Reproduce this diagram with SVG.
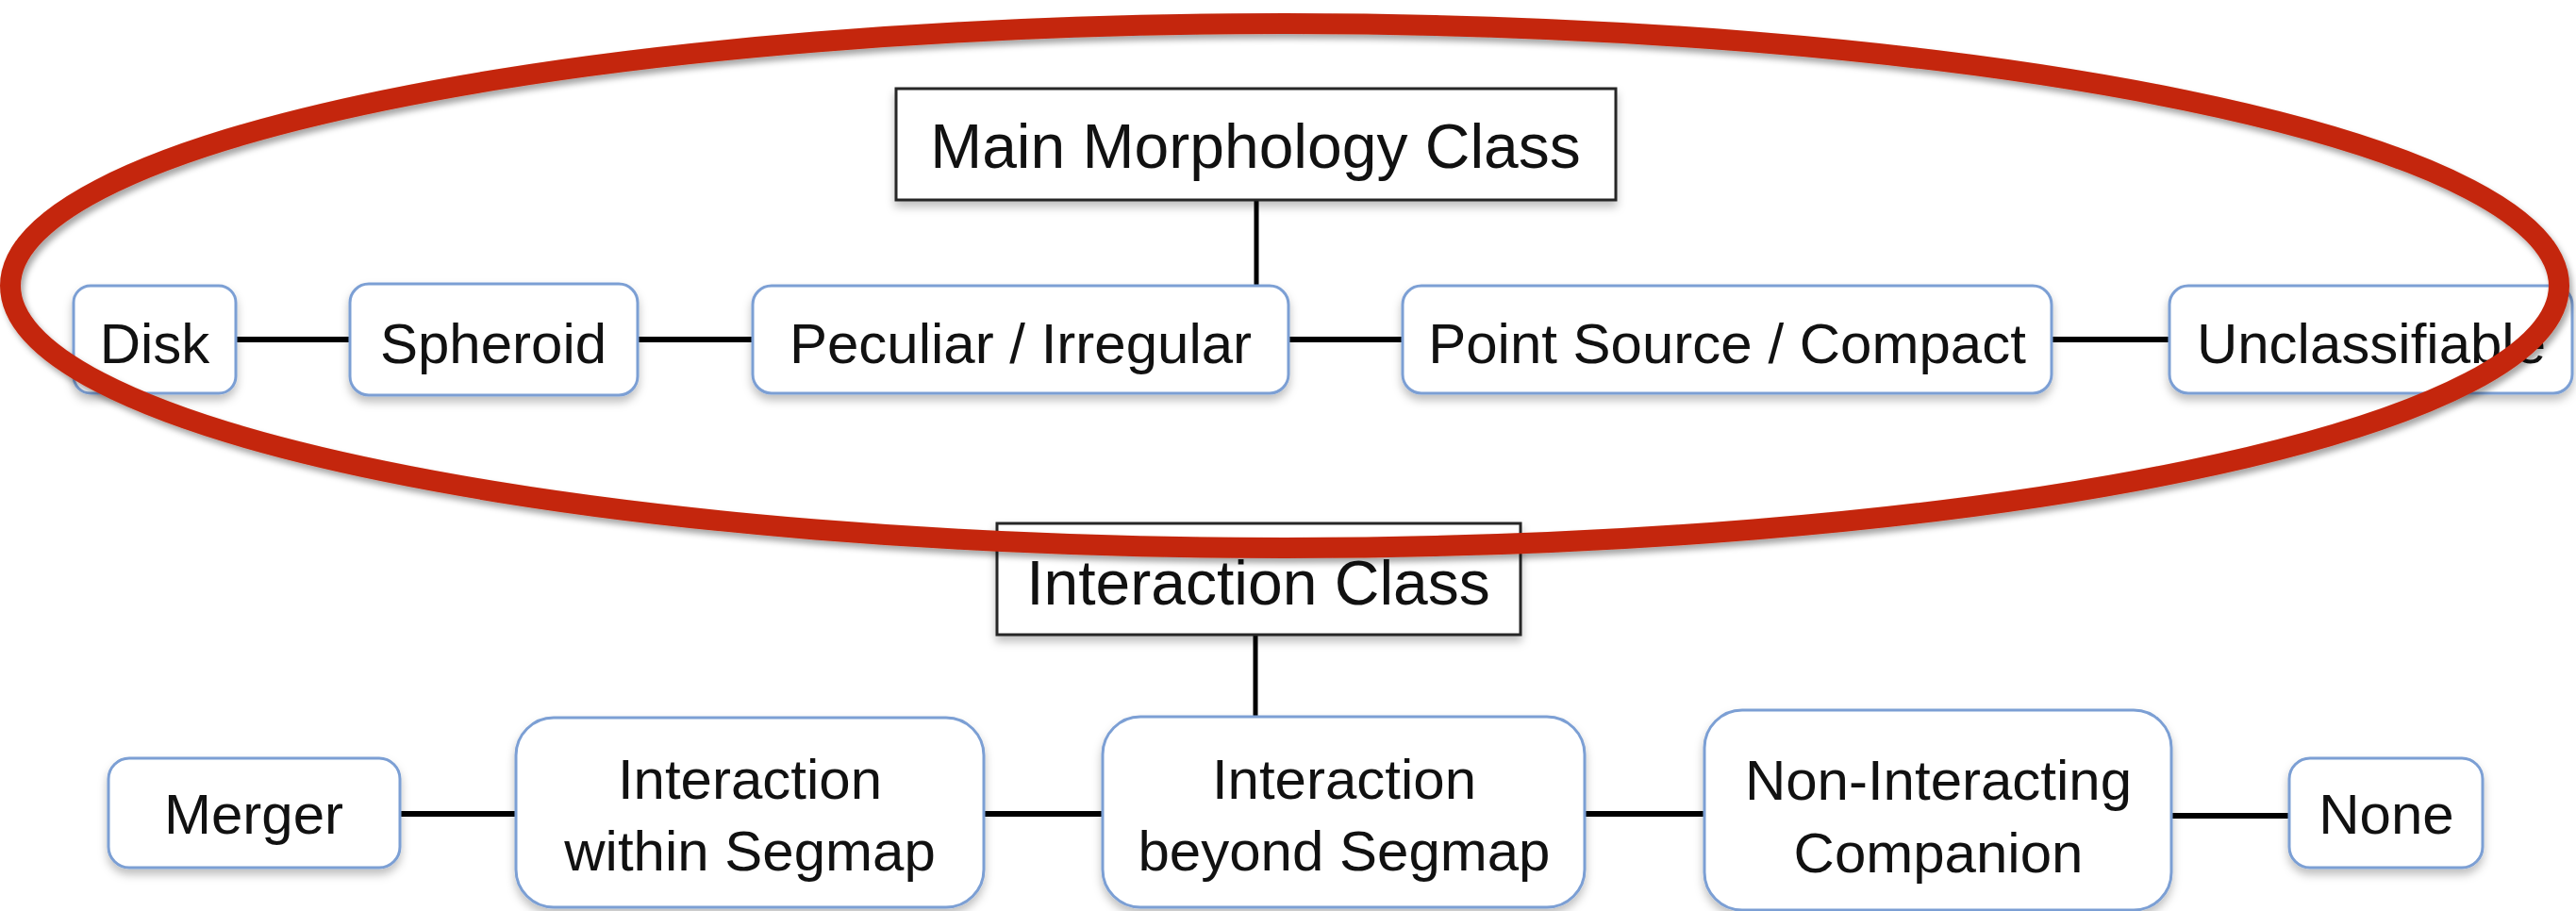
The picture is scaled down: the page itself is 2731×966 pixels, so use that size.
<svg xmlns="http://www.w3.org/2000/svg" width="2731" height="966" viewBox="0 0 2731 966">
<style>
.hdr rect{fill:#fff;stroke:#262626;stroke-width:3;filter:url(#sh)}
.nd rect{fill:#fff;stroke:#7b9fd4;stroke-width:3;filter:url(#sh)}
text{font-family:"Liberation Sans",Arial,sans-serif;fill:#111;text-anchor:middle}
.h{font-size:66px}
.t{font-size:60px}
.conn line{stroke:#000;stroke-width:6;stroke-linecap:butt}
.conn line.v{stroke-width:5}
</style>
<defs>
<filter id="sh" x="-10%" y="-20%" width="120%" height="150%">
<feDropShadow dx="0" dy="6" stdDeviation="5" flood-color="#000" flood-opacity="0.25"/>
</filter>
<filter id="esh" x="-5%" y="-10%" width="110%" height="125%">
<feDropShadow dx="3" dy="5" stdDeviation="3" flood-color="#000" flood-opacity="0.35"/>
</filter>
</defs>
<rect x="0" y="0" width="2731" height="966" fill="#fff"/>
<g id="connectors" class="conn">
<line class="v" x1="1332" y1="212" x2="1332" y2="303"/>
<line x1="250" y1="360" x2="371" y2="360"/>
<line x1="676" y1="360" x2="798" y2="360"/>
<line x1="1366" y1="360" x2="1487" y2="360"/>
<line x1="2175" y1="360" x2="2300" y2="360"/>
<line class="v" x1="1331" y1="673" x2="1331" y2="760"/>
<line x1="424" y1="863" x2="547" y2="863"/>
<line x1="1043" y1="863" x2="1169" y2="863"/>
<line x1="1680" y1="863" x2="1807" y2="863"/>
<line x1="2302" y1="865" x2="2427" y2="865"/>
</g>
<g id="main-morphology" class="hdr"><rect x="950" y="94" width="763" height="118"/><text class="h" x="1331" y="178">Main Morphology Class</text></g>
<g id="disk" class="nd"><rect x="78" y="303" width="172" height="114" rx="18"/><text class="t" x="164" y="385">Disk</text></g>
<g id="spheroid" class="nd"><rect x="371" y="301" width="305" height="118" rx="20"/><text class="t" x="523" y="385">Spheroid</text></g>
<g id="peculiar" class="nd"><rect x="798" y="303" width="568" height="114" rx="20"/><text class="t" x="1082" y="385">Peculiar / Irregular</text></g>
<g id="point-source" class="nd"><rect x="1487" y="303" width="688" height="114" rx="20"/><text class="t" x="1831" y="385">Point Source / Compact</text></g>
<g id="unclassifiable" class="nd"><rect x="2300" y="303" width="427" height="114" rx="20"/><text class="t" x="2514" y="385">Unclassifiable</text></g>
<g id="interaction-class" class="hdr"><rect x="1057" y="555" width="555" height="118"/><text class="h" x="1334" y="641">Interaction Class</text></g>
<g id="merger" class="nd"><rect x="115" y="804" width="309" height="116" rx="22"/><text class="t" x="269" y="884">Merger</text></g>
<g id="within" class="nd"><rect x="547" y="761" width="496" height="201" rx="40"/><text class="t" x="795" y="847">Interaction</text><text class="t" x="795" y="923">within Segmap</text></g>
<g id="beyond" class="nd"><rect x="1169" y="760" width="511" height="202" rx="40"/><text class="t" x="1425" y="847">Interaction</text><text class="t" x="1425" y="923">beyond Segmap</text></g>
<g id="non-interacting" class="nd"><rect x="1807" y="753" width="495" height="212" rx="40"/><text class="t" x="2055" y="848">Non-Interacting</text><text class="t" x="2055" y="925">Companion</text></g>
<g id="none" class="nd"><rect x="2427" y="804" width="205" height="116" rx="22"/><text class="t" x="2530" y="884">None</text></g>
<g id="highlight"><ellipse cx="1362" cy="303" rx="1351" ry="278" fill="none" stroke="#c4260a" stroke-width="22" filter="url(#esh)"/></g>
</svg>
